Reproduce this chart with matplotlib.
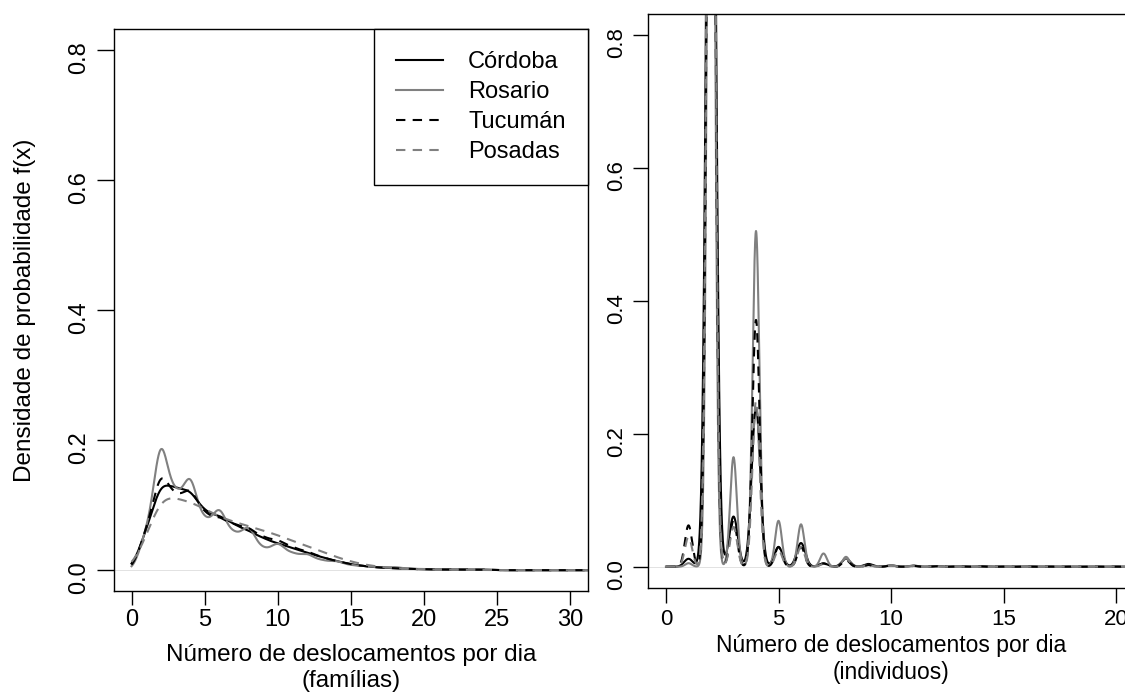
import numpy as np
import matplotlib.pyplot as plt
import matplotlib as mpl

plt.rcParams['font.family'] = ['Liberation Sans', 'DejaVu Sans']

cities = ['Córdoba', 'Rosario', 'Tucumán', 'Posadas']
colors = ['black', 'gray', 'black', 'gray']
styles = ['-', '-', '--', '--']

# share of households by number of trips per day (0..24)
trips_fam = np.arange(0, 25)
fam_cordoba = [0, 0.06, 0.14, 0.125, 0.126, 0.088, 0.085, 0.07, 0.061, 0.049, 0.041, 0.034, 0.027,
               0.02, 0.014, 0.009, 0.006, 0.004, 0.003, 0.002, 0.0015, 0.001, 0.001, 0.001, 0.001]
fam_rosario = [0, 0.056, 0.21, 0.112, 0.15, 0.072, 0.0985, 0.0535, 0.0697, 0.0306, 0.043, 0.025, 0.0255,
               0.0148, 0.0143, 0.0075, 0.0065, 0.004, 0.005, 0.002, 0.002, 0.001, 0.001, 0.001, 0.001]
fam_tucuman = [0, 0.06, 0.16, 0.11, 0.13, 0.085, 0.082, 0.07, 0.066, 0.05, 0.047, 0.035, 0.029,
               0.02, 0.014, 0.009, 0.006, 0.004, 0.003, 0.002, 0.0015, 0.001, 0.001, 0.001, 0.001]
fam_posadas = [0, 0.05, 0.12, 0.11, 0.106, 0.094, 0.082, 0.074, 0.068, 0.061, 0.054, 0.045, 0.037,
               0.029, 0.02, 0.013, 0.008, 0.005, 0.003, 0.002, 0.001, 0.001, 0.0005, 0.0005, 0.0005]
bw_fam = [0.6, 0.5, 0.55, 0.75]

# share of individuals by number of trips per day (0..20)
trips_ind = np.arange(0, 21)
ind_cordoba = [0, 0.0057, 0.798, 0.036, 0.114, 0.014, 0.017, 0.0024, 0.0057, 0.002, 0.001,
               0.0008, 0.0005, 0.0003, 0.0003, 0.0002, 0.0002, 0.0001, 0.0001, 0.0001, 0.0001]
ind_rosario = [0, 0.002, 0.68, 0.062, 0.19, 0.026, 0.024, 0.0075, 0.0056, 0.001, 0.0008,
               0.0005, 0.0003, 0.0002, 0.0002, 0.0001, 0.0001, 0.0001, 0.0001, 0.0001, 0.0001]
ind_tucuman = [0, 0.025, 0.765, 0.028, 0.149, 0.012, 0.012, 0.002, 0.004, 0.001, 0.0008,
               0.0005, 0.0003, 0.0002, 0.0002, 0.0001, 0.0001, 0.0001, 0.0001, 0.0001, 0.0001]
ind_posadas = [0, 0.018, 0.826, 0.024, 0.1, 0.01, 0.012, 0.0016, 0.005, 0.001, 0.0008,
               0.0005, 0.0003, 0.0002, 0.0002, 0.0001, 0.0001, 0.0001, 0.0001, 0.0001, 0.0001]
bw_ind = [0.19, 0.15, 0.16, 0.16]

yticks = [0.0, 0.2, 0.4, 0.6, 0.8]


def kde(x, trips, share, bw):
    # gaussian kernel density of integer counts weighted by their share
    z = (x[:, None] - trips[None, :]) / bw
    return np.exp(-0.5 * z**2) @ np.asarray(share) / (bw * np.sqrt(2 * np.pi))


fig = plt.figure(figsize=(11.25, 6.95), dpi=100)
ax0 = fig.add_axes([114/1125, 1 - 591/695, 474/1125, 562/695])
ax1 = fig.add_axes([648/1125, 1 - 588/695, 486/1125, 574/695])

##############################################################################

# families

x = np.linspace(0, 32, 1600)
for share, bw, name, c, ls in zip([fam_cordoba, fam_rosario, fam_tucuman, fam_posadas], bw_fam, cities, colors, styles):
    ax0.plot(x, kde(x, trips_fam, share, bw), c=c, ls=ls, lw=1.5, dashes=(4.5, 3.5) if ls == '--' else (None, None), label=name)
ax0.axhline(0, c='#dddddd', lw=0.6, zorder=0)

ax0.set_xlim(-1.2, 31.2)
ax0.set_xticks(range(0, 31, 5))
ax0.set_xlabel('Número de deslocamentos por dia\n(famílias)', fontsize=17.5, linespacing=1.2)
ax0.xaxis.set_label_coords(0.5, -0.095)
ax0.set_ylabel('Densidade de probabilidade f(x)', fontsize=17.5)
ax0.yaxis.set_label_coords(-0.165, 0.5)
ax0.tick_params(axis='y', direction='out', length=12, width=1.0, labelsize=17, pad=5)
ax0.tick_params(axis='x', direction='out', length=10, width=1.0, labelsize=17, pad=3)

leg = ax0.legend(loc='upper right', fontsize=17, fancybox=False, edgecolor='black', framealpha=1,
                 borderaxespad=0, handlelength=2.0, handletextpad=1.05, labelspacing=0.33, borderpad=0.95)
leg.get_frame().set_linewidth(1.0)

##############################################################################

# individuals

x = np.linspace(0, 21, 4200)
for share, bw, name, c, ls in zip([ind_cordoba, ind_rosario, ind_tucuman, ind_posadas], bw_ind, cities, colors, styles):
    ax1.plot(x, kde(x, trips_ind, share, bw), c=c, ls=ls, lw=1.5, dashes=(4.5, 3.5) if ls == '--' else (None, None))
ax1.axhline(0, c='#dddddd', lw=0.6, zorder=0)

ax1.set_xlim(-0.8, 20.8)
ax1.set_xticks(range(0, 21, 5))
ax1.set_xlabel('Número de deslocamentos por dia\n(individuos)', fontsize=16.5, linespacing=1.25)
ax1.xaxis.set_label_coords(0.5, -0.08)
ax1.tick_params(direction='out', length=11, width=1.0, labelsize=16, pad=4)

for ax in (ax0, ax1):
    ax.set_ylim(-0.032, 0.832)
    ax.set_yticks(yticks)
    ax.yaxis.set_major_formatter(mpl.ticker.FormatStrFormatter('%.1f'))
    ax.tick_params(axis='y', labelrotation=90)
    for s in ax.spines.values():
        s.set_linewidth(1.0)

fig.savefig('out.png', dpi=100)
